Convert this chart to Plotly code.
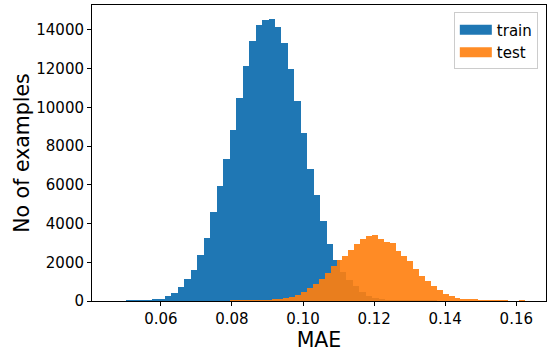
import numpy as np
import plotly.graph_objects as go

# ---- data ----
series_names = ["train", "test"]

train_bin_start = 0.04644
train_bin_width = 0.001827
train_counts = [
    0, 0, 1, 2, 5, 15, 62, 129, 248, 423,
    712, 1145, 1625, 2398, 3275, 4616, 5957, 7349, 8843, 10495,
    12145, 13435, 14260, 14480, 14550, 14150, 13300, 12000, 10304, 8675,
    6833, 5493, 4115, 2965, 2140, 1500, 1100, 750, 480, 280,
    160, 90, 50, 25, 12, 6, 3, 1, 1, 1,
]

test_bin_start = 0.07955
test_bin_width = 0.00166
test_counts = [
    1, 2, 5, 9, 15, 25, 40, 62, 103, 155,
    232, 335, 475, 670, 900, 1160, 1470, 1830, 2140, 2347,
    2656, 2950, 3208, 3342, 3414, 3208, 3053, 3002, 2568, 2310,
    2089, 1661, 1315, 1021, 763, 557, 371, 248, 165, 113,
    77, 55, 30, 8, 3, 1, 1, 0, 0, 1,
]

x_ticks = [0.06, 0.08, 0.10, 0.12, 0.14, 0.16]
x_tick_labels = ["0.06", "0.08", "0.10", "0.12", "0.14", "0.16"]
y_ticks = [0, 2000, 4000, 6000, 8000, 10000, 12000, 14000]
y_tick_labels = ["0", "2000", "4000", "6000", "8000", "10000", "12000", "14000"]
x_title = "MAE"
y_title = "No of examples"

# ---- derived ----
train_centers = train_bin_start + train_bin_width * (np.arange(len(train_counts)) + 0.5)
test_centers = test_bin_start + test_bin_width * (np.arange(len(test_counts)) + 0.5)

x_min = train_bin_start
x_max = test_bin_start + test_bin_width * len(test_counts)
pad = 0.05 * (x_max - x_min)
y_max = 1.05 * max(max(train_counts), max(test_counts))

BLUE = "#1f77b4"
ORANGE = "#ff7f0e"
FONT = "DejaVu Sans"

fig = go.Figure()
fig.add_bar(x=train_centers, y=train_counts, width=train_bin_width,
            marker=dict(color=BLUE, line=dict(width=0)), showlegend=False,
            name=series_names[0])
fig.add_bar(x=test_centers, y=test_counts, width=test_bin_width,
            marker=dict(color=ORANGE, line=dict(width=0)), opacity=0.9,
            showlegend=False, name=series_names[1])
# legend entries drawn as wide patches
fig.add_scatter(x=[None], y=[None], mode="lines", line=dict(color=BLUE, width=11),
                name=series_names[0])
fig.add_scatter(x=[None], y=[None], mode="lines", line=dict(color=ORANGE, width=11),
                opacity=0.9, name=series_names[1])

axis_common = dict(
    showline=True, mirror=True, linecolor="black", linewidth=1,
    ticks="outside", ticklen=4, tickwidth=1, tickcolor="black",
    showgrid=False, zeroline=False,
    tickfont=dict(family=FONT, size=15, color="black"),
)

fig.update_layout(
    width=550, height=352,
    margin=dict(l=92, r=4, t=5, b=51),
    paper_bgcolor="white", plot_bgcolor="white",
    barmode="overlay", bargap=0,
    font=dict(family=FONT, color="black"),
    xaxis=dict(range=[x_min - pad, x_max + pad], tickvals=x_ticks, ticktext=x_tick_labels,
               title=dict(text=x_title, font=dict(family=FONT, size=20.5, color="black"), standoff=6),
               **axis_common),
    yaxis=dict(range=[0, y_max], tickvals=y_ticks, ticktext=y_tick_labels,
               title=dict(text=y_title, font=dict(family=FONT, size=20.5, color="black"), standoff=1),
               **axis_common),
    legend=dict(x=0.982, y=0.975, xanchor="right", yanchor="top",
                bordercolor="#cccccc", borderwidth=1, bgcolor="white",
                font=dict(family=FONT, size=15, color="black"),
                itemwidth=32, tracegroupgap=2),
)

fig.write_html("out.html", config={"displayModeBar": False},
               post_script="document.body.style.margin='0';document.body.style.overflow='hidden';")
